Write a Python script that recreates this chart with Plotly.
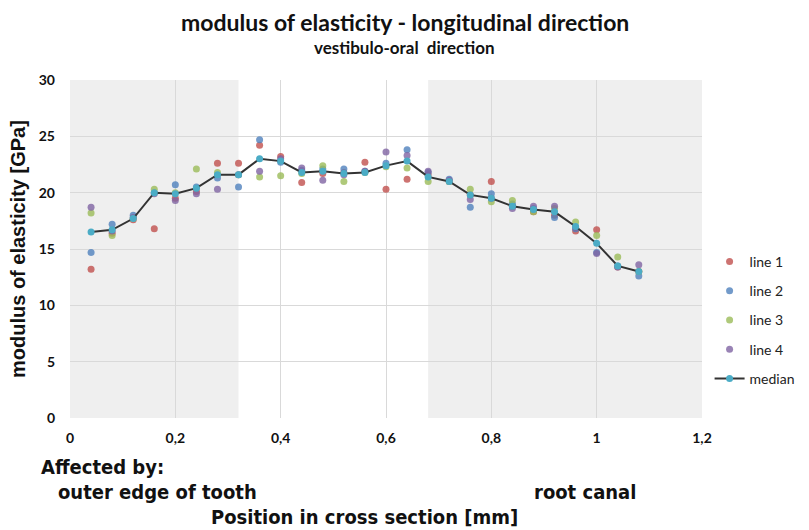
import plotly.graph_objects as go

positions = [0.04, 0.08, 0.12, 0.16, 0.20, 0.24, 0.28, 0.32, 0.36, 0.40, 0.44, 0.48, 0.52, 0.56,
             0.60, 0.64, 0.68, 0.72, 0.76, 0.80, 0.84, 0.88, 0.92, 0.96, 1.00, 1.04, 1.08]

line1 = [13.2, 16.4, 17.6, 16.8, 19.5, 20.1, 22.6, 22.6, 24.2, 23.2, 20.9, 21.7, 21.8, 22.7,
         20.3, 21.2, 21.6, 21.0, 19.8, 21.0, 18.8, 18.3, 18.0, 16.6, 16.7, 13.4, 13.0]
line2 = [14.7, 17.2, 18.0, 20.0, 20.7, 20.5, 21.3, 20.5, 24.7, 22.7, 22.0, 22.1, 22.1, 21.9,
         22.6, 23.8, 21.8, 21.2, 18.7, 19.9, 19.0, 18.6, 17.8, 16.8, 14.7, 13.5, 12.6]
line3 = [18.2, 16.2, 17.7, 20.3, 20.0, 22.1, 21.8, 21.6, 21.4, 21.5, 21.7, 22.4, 21.0, 21.8,
         22.3, 22.2, 21.0, 21.0, 20.3, 19.2, 19.3, 18.3, 18.6, 17.4, 16.2, 14.3, 13.0]
line4 = [18.7, 16.6, 17.8, 19.9, 19.3, 19.9, 20.3, 21.6, 21.9, 23.0, 22.2, 21.1, 21.6, 21.9,
         23.6, 23.3, 21.9, 21.1, 19.4, 19.5, 18.6, 18.8, 18.8, 16.9, 14.6, 13.4, 13.6]
median = [16.5, 16.7, 17.7, 20.0, 19.9, 20.4, 21.6, 21.6, 23.0, 22.8, 21.8, 21.9, 21.7, 21.8,
          22.4, 22.8, 21.4, 21.0, 19.8, 19.5, 18.8, 18.5, 18.3, 17.0, 15.5, 13.5, 13.0]

x_tickvals = [0, 0.2, 0.4, 0.6, 0.8, 1.0, 1.2]
x_ticktext = ["0", "0,2", "0,4", "0,6", "0,8", "1", "1,2"]
y_tickvals = [0, 5, 10, 15, 20, 25, 30]

shade_ranges = [(0.0, 0.32), (0.68, 1.2)]

series = [("line 1", line1, "#C0504D"), ("line 2", line2, "#4F81BD"),
          ("line 3", line3, "#9BBB59"), ("line 4", line4, "#8064A2")]

fig = go.Figure()
for name, vals, col in series:
    fig.add_trace(go.Scatter(x=positions, y=vals, mode="markers", name=name, legendgroup=name,
                             marker=dict(color=col, size=7, opacity=0.8)))
fig.add_trace(go.Scatter(x=positions, y=median, mode="lines+markers", name="median",
                         legendgroup="median",
                         line=dict(color="#333333", width=2),
                         marker=dict(color="#4BACC6", size=7)))

for x0, x1 in shade_ranges:
    fig.add_shape(type="rect", xref="x", yref="y", x0=x0, x1=x1, y0=0, y1=30,
                  fillcolor="#EFEFEF", line=dict(width=0), layer="below")

font_main = "Lato, 'Open Sans', sans-serif"
font_narrow = "'Liberation Sans Narrow', 'DejaVu Sans Condensed', 'Liberation Sans', sans-serif"
font_arial = "'Liberation Sans', Arial, sans-serif"

fig.update_layout(
    width=801, height=522,
    margin=dict(l=62, r=107, t=72, b=112, autoexpand=False),
    paper_bgcolor="white", plot_bgcolor="white",
    showlegend=True,
    legend=dict(x=1.012, y=0.29, yanchor="middle", xanchor="left",
                font=dict(family=font_main, size=14, color="#222"),
                itemwidth=30, tracegroupgap=8, bgcolor="rgba(0,0,0,0)"),
    xaxis=dict(range=[0, 1.2], tickvals=x_tickvals, ticktext=x_ticktext,
               showgrid=True, gridcolor="#D9D9D9", gridwidth=1, zeroline=False,
               showline=False, ticks="", ticklabelstandoff=10, automargin=False,
               tickfont=dict(family=font_main, size=14, color="#111", weight="bold")),
    yaxis=dict(range=[0, 30], tickvals=y_tickvals,
               showgrid=True, gridcolor="#D9D9D9", gridwidth=1, zeroline=False,
               showline=False, ticks="", ticklabelstandoff=14, automargin=False,
               tickfont=dict(family=font_main, size=14, color="#111", weight="bold")),
    annotations=[
        dict(text="<b>modulus of elasticity - longitudinal direction</b>", xref="paper", yref="paper",
             x=0.53, y=1.0, yshift=58, xanchor="center", yanchor="middle", showarrow=False,
             font=dict(family=font_main, size=23, color="#111")),
        dict(text="<b>vestibulo-oral  direction</b>", xref="paper", yref="paper",
             x=0.53, y=1.0, yshift=33, xanchor="center", yanchor="middle", showarrow=False,
             font=dict(family=font_main, size=17, color="#111")),
        dict(text="<b>modulus of elasticity [GPa]</b>", xref="paper", yref="paper",
             x=0, xshift=-52, y=0.5, xanchor="center", yanchor="middle", showarrow=False,
             textangle=-90,
             font=dict(family=font_arial, size=20, color="#111")),
        dict(text="<b>Affected by:</b>", xref="paper", yref="paper", x=0, xshift=-31,
             y=0, yshift=-49, xanchor="left", yanchor="middle", showarrow=False,
             font=dict(family=font_narrow, size=20, color="#111")),
        dict(text="<b>outer edge of tooth</b>", xref="paper", yref="paper", x=0, xshift=-14,
             y=0, yshift=-74, xanchor="left", yanchor="middle", showarrow=False,
             font=dict(family=font_narrow, size=20, color="#111")),
        dict(text="<b>root canal</b>", xref="x", yref="paper", x=0.877,
             y=0, yshift=-74, xanchor="left", yanchor="middle", showarrow=False,
             font=dict(family=font_narrow, size=20, color="#111")),
        dict(text="<b>Position in cross section [mm]</b>", xref="x", yref="paper", x=0.56,
             y=0, yshift=-99, xanchor="center", yanchor="middle", showarrow=False,
             font=dict(family=font_narrow, size=20, color="#111")),
    ],
)

fig.write_html("out.html")
